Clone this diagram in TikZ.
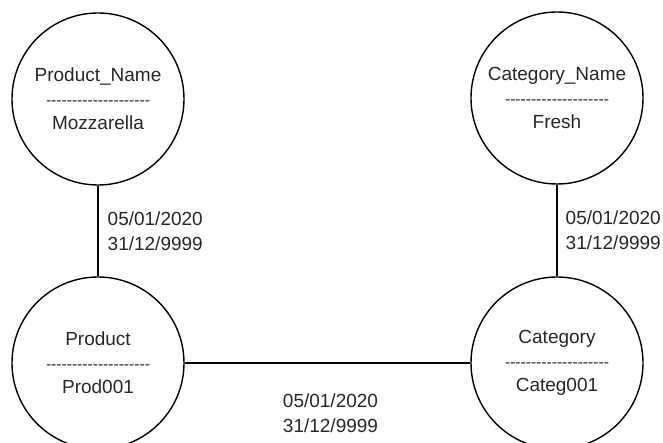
\documentclass[tikz,border=0pt]{standalone}
\usepackage{fontspec}
\setmainfont{Liberation Sans}
\usepackage{tikz}
\newcommand{\sepline}{{\fontsize{7.8}{12}\selectfont -{}-{}-{}-{}-{}-{}-{}-{}-{}-{}-{}-{}-{}-{}-{}-{}-{}-{}-{}-}}
\tikzset{
	entity/.style={draw, line width=0.7pt, circle, minimum size=86pt, inner sep=0pt,
		align=center, font=\fontsize{9.5}{12}\selectfont, text=black!85},
	dates/.style={inner sep=0pt, align=left, font=\fontsize{9.5}{12.5}\selectfont, text=black!85}
}
\begin{document}
\begin{tikzpicture}[x=0.5pt,y=0.5pt]
			\useasboundingbox (0,0) rectangle (663,443);
			\node[entity] (prodname) at (98,344) {Product\_Name\\\sepline\\Mozzarella};
			\node[entity] (catname) at (557,345) {Category\_Name\\\sepline\\Fresh};
			\node[entity] (prod) at (98,80) {Product\\\sepline\\Prod001};
			\node[entity] (categ) at (557,80) {Category\\\sepline\\Categ001};
			\draw[line width=0.7pt] (prodname) -- node[dates, midway, right=4.5pt] {05/01/2020\\31/12/9999} (prod);
			\draw[line width=0.7pt] (catname) -- node[dates, midway, right=4pt] {05/01/2020\\31/12/9999} (categ);
			\draw[line width=0.7pt] (prod) -- node[dates, midway, below=15pt, xshift=1.5pt] {05/01/2020\\31/12/9999} (categ);
			\end{tikzpicture}
\end{document}
